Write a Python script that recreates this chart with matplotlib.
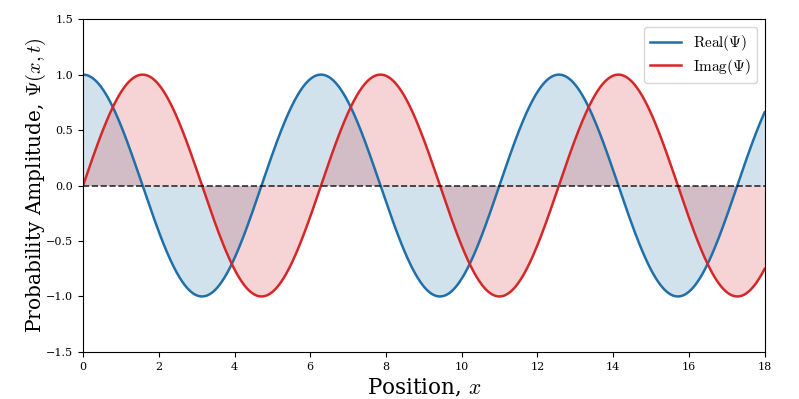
import numpy as np
import matplotlib
matplotlib.use("Agg")
import matplotlib.pyplot as plt

plt.rcParams['font.family'] = 'DejaVu Serif'
plt.rcParams['mathtext.fontset'] = 'cm'

# wave parameters
x_min, x_max = 0, 18
wavenumber = 1.0
amplitude = 1.0
n_samples = 1000

x_ticks = [0, 2, 4, 6, 8, 10, 12, 14, 16, 18]
y_ticks = [-1.5, -1.0, -0.5, 0.0, 0.5, 1.0, 1.5]

x = np.linspace(x_min, x_max, n_samples)
real_part = amplitude * np.cos(wavenumber * x)
imag_part = amplitude * np.sin(wavenumber * x)

blue = '#1f6fa8'
red = '#d62728'

fig, ax = plt.subplots(figsize=(7.99, 3.99), dpi=100)
fig.subplots_adjust(left=0.104, right=0.957, top=0.952, bottom=0.118)

ax.plot(x, real_part, color=blue, lw=1.8, label=r'$\mathrm{Real}(\Psi)$')
ax.plot(x, imag_part, color=red, lw=1.8, label=r'$\mathrm{Imag}(\Psi)$')
ax.fill_between(x, 0, real_part, color=blue, alpha=0.2, lw=0)
ax.fill_between(x, 0, imag_part, color=red, alpha=0.2, lw=0)
ax.axhline(0, color='black', ls='--', lw=1.2, alpha=0.8)

ax.set_xlim(x_min, x_max)
ax.set_ylim(-1.5, 1.5)
ax.set_xticks(x_ticks)
ax.set_yticks(y_ticks)
ax.tick_params(labelsize=8)
ax.set_xlabel(r'Position, $x$', fontsize=15.5)
ax.set_ylabel(r'Probability Amplitude, $\Psi(x,t)$', fontsize=14.5, labelpad=-1)
ax.legend(loc='upper right', fontsize=11, labelspacing=0.25)

fig.savefig('out.png')
